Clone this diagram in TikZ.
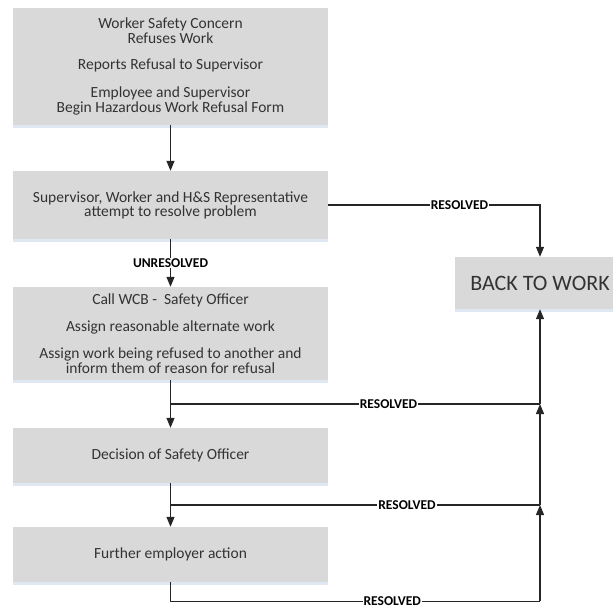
\documentclass[tikz,border=0pt]{standalone}
\usepackage{fontspec}
\setmainfont{Carlito}
\usepackage{tikz}
\usetikzlibrary{arrows.meta,calc,shadows}
\usepackage{xcolor}
\definecolor{BoxGrey}{HTML}{D9D9D9}
\definecolor{InkGrey}{HTML}{333333}
\definecolor{LineGrey}{HTML}{262626}
\definecolor{ShadeBlue}{HTML}{C9D8EA}
\newcommand{\boxfont}{\fontsize{15.5}{12.5}\selectfont}

\begin{document}
\begin{tikzpicture}[x=1pt,y=-1pt,
    stepbox/.style={fill=BoxGrey,text=InkGrey,align=center,font=\boxfont,
      minimum width=315pt,inner sep=0pt,
      drop shadow={shadow xshift=0pt,shadow yshift=-2.5pt,fill=ShadeBlue,opacity=0.6}},
    lbl/.style={fill=white,inner sep=1pt,text=black,font=\fontsize{13.5}{14}\selectfont\bfseries},
    conn/.style={draw=LineGrey,line width=1.2pt},
    arr/.style={conn,-{Triangle[width=8pt,length=10pt]}}]
    \useasboundingbox (0,0) rectangle (613,608);

    \node[stepbox,minimum height=117pt] (b1) at (170.5,66.5)
      {Worker Safety Concern\\Refuses Work\\[14pt]
       Reports Refusal to Supervisor\\[14pt]
       Employee and Supervisor\\Begin Hazardous Work Refusal Form};
    \node[stepbox,minimum height=68pt] (b2) at (170.5,205)
      {Supervisor, Worker and H\&S Representative\\attempt to resolve problem};
    \node[stepbox,minimum height=93pt] (b3) at (170.5,333.5)
      {Call WCB -\ \ Safety Officer\\[13pt]
       Assign reasonable alternate work\\[13pt]
       Assign work being refused to another and\\inform them of reason for refusal};
    \node[stepbox,minimum height=55pt] (b4) at (170.5,455.5) {Decision of Safety Officer};
    \node[stepbox,minimum height=55pt] (b5) at (170.5,554.5) {Further employer action};
    \node[stepbox,minimum width=170pt,minimum height=52pt,
      font=\fontsize{22}{24}\selectfont] (back) at (540,283) {BACK TO WORK};

    \coordinate (j1) at ($(b3.south)!0.5!(b4.north)$);
    \coordinate (j2) at ($(b4.south)!0.5!(b5.north)$);
    \coordinate (j3) at ($(b5.south)+(0,19)$);
    \coordinate (k1) at (back.south |- j1);
    \coordinate (k2) at (back.south |- j2);
    \coordinate (k3) at (back.south |- j3);

    \draw[arr] (b1) -- (b2);
    \draw[arr] (b2.east) -| node[lbl,pos=0.31] {RESOLVED} (back.north);
    \draw[arr] (b2) -- node[lbl] {UNRESOLVED} (b3);
    \draw[arr] (b3) -- (b4);
    \draw[conn] (j1) -- node[lbl,pos=0.59] {RESOLVED} (k1);
    \draw[arr] (b4) -- (b5);
    \draw[conn] (j2) -- node[lbl,pos=0.64] {RESOLVED} (k2);
    \draw[conn] (b5.south) -- (j3) -- node[lbl,pos=0.6] {RESOLVED} (k3);
    \draw[arr] (k3) -- (k2);
    \draw[arr] (k2) -- (k1);
    \draw[arr] (k1) -- (back.south);
\end{tikzpicture}
\end{document}
